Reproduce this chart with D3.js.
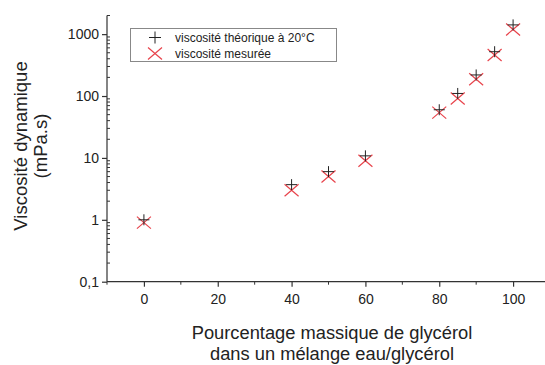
<!DOCTYPE html>
<html>
<head>
<meta charset="utf-8">
<script src="https://cdn.jsdelivr.net/npm/d3@7"></script>
<style>
  html, body { margin: 0; padding: 0; background: #fff; }
  svg { display: block; font-family: "Liberation Sans", Arial, sans-serif; }
</style>
</head>
<body>
<svg id="chart" width="545" height="365"></svg>
<script>
// Glycerol mass fraction (%) of each water/glycerol mixture
const glycerolPct = [0, 40, 50, 60, 80, 85, 90, 95, 100];
// Theoretical dynamic viscosity at 20 °C (mPa.s)
const viscTheorique = [1.0, 3.7, 6.0, 10.8, 60, 110, 219, 520, 1410];
// Measured dynamic viscosity (mPa.s)
const viscMesuree = [0.9, 3.0, 5.0, 9.0, 54, 91, 187, 460, 1190];

const xTicks = [0, 20, 40, 60, 80, 100];
const xMinorTicks = [-10, 10, 30, 50, 70, 90];
const yTicks = [0.1, 1, 10, 100, 1000];
const yTickLabels = ["0,1", "1", "10", "100", "1000"];

const seriesNames = ["viscosité théorique à 20°C", "viscosité mesurée"];
const xTitle = ["Pourcentage massique de glycérol", "dans un mélange eau/glycérol"];
const yTitle = ["Viscosité dynamique", "(mPa.s)"];

const svg = d3.select("#chart");
const axisColor = "#333";
const red = "#e8434b";

const x = d3.scaleLinear().domain([-10, 110]).range([107, 550]);
const y = d3.scaleLog().domain([0.1, 2000]).range([281.7, 15.5]);

// minor ticks on the log axis: 2..9 of each decade
const yMinor = [];
[0.1, 1, 10, 100, 1000].forEach(d => {
  for (let k = 2; k <= 9; k++) {
    const v = d * k;
    if (v <= 2000) yMinor.push(v);
  }
});

// y axis
const yAxis = svg.append("g").attr("transform", `translate(${x(-10)},0)`)
  .call(d3.axisLeft(y).tickValues(yTicks).tickSize(5).tickPadding(3)
    .tickFormat((d, i) => yTickLabels[i]));
yAxis.select(".domain").attr("d", `M0,${y(2000)}V${y(0.1)}`);
const yMinorG = svg.append("g").attr("transform", `translate(${x(-10)},0)`);
yMinorG.selectAll("line").data(yMinor).join("line")
  .attr("x1", 0).attr("x2", 3)
  .attr("y1", d => y(d)).attr("y2", d => y(d))
  .attr("stroke", axisColor);

// x axis
const xAxis = svg.append("g").attr("transform", `translate(0,${y(0.1)})`)
  .call(d3.axisBottom(x).tickValues(xTicks).tickSize(5).tickPadding(7));
xAxis.select(".domain").attr("d", `M${x(-10)},0H${x(110)}`);
const xMinorG = svg.append("g").attr("transform", `translate(0,${y(0.1)})`);
xMinorG.selectAll("line").data(xMinorTicks).join("line")
  .attr("x1", d => x(d)).attr("x2", d => x(d))
  .attr("y1", 0).attr("y2", 3)
  .attr("stroke", axisColor);

[yAxis, xAxis].forEach(g => {
  g.selectAll(".domain, .tick line").attr("stroke", axisColor).attr("stroke-width", 1.2);
  g.selectAll(".tick text").attr("fill", "#222").attr("font-size", 14)
    .attr("font-family", "Liberation Sans, Arial, sans-serif");
});

// marker drawing helpers
function plusPath(cx, cy, r) {
  return `M${cx - r},${cy}H${cx + r}M${cx},${cy - r}V${cy + r}`;
}
function crossPath(cx, cy, rx, ry) {
  return `M${cx - rx},${cy - ry}L${cx + rx},${cy + ry}M${cx - rx},${cy + ry}L${cx + rx},${cy - ry}`;
}

// measured values (red crosses)
svg.append("g").selectAll("path").data(glycerolPct).join("path")
  .attr("d", (d, i) => crossPath(x(d), y(viscMesuree[i]), 7, 6))
  .attr("stroke", red).attr("stroke-width", 1.2).attr("fill", "none");

// theoretical values (black plus)
svg.append("g").selectAll("path").data(glycerolPct).join("path")
  .attr("d", (d, i) => plusPath(x(d), y(viscTheorique[i]), 5.5))
  .attr("stroke", "#222").attr("stroke-width", 1).attr("fill", "none");

// legend
const legend = svg.append("g");
legend.append("rect").attr("x", 130.5).attr("y", 28.5).attr("width", 206).attr("height", 33)
  .attr("fill", "#fff").attr("stroke", "#888").attr("stroke-width", 1);
legend.append("path").attr("d", plusPath(155, 37.5, 6))
  .attr("stroke", "#222").attr("stroke-width", 1).attr("fill", "none");
legend.append("path").attr("d", crossPath(155, 53.5, 7, 6))
  .attr("stroke", red).attr("stroke-width", 1.2).attr("fill", "none");
legend.selectAll("text").data(seriesNames).join("text")
  .attr("x", 175).attr("y", (d, i) => 41.5 + i * 16)
  .attr("font-size", 12).attr("fill", "#222").text(d => d);

// axis titles
svg.append("g").selectAll("text").data(xTitle).join("text")
  .attr("x", 332).attr("y", (d, i) => 339 + i * 20.5)
  .attr("text-anchor", "middle").attr("font-size", 18.3).attr("fill", "#222")
  .text(d => d);

svg.append("g").selectAll("text").data(yTitle).join("text")
  .attr("transform", (d, i) => `translate(${27 + i * 20},146) rotate(-90)`)
  .attr("text-anchor", "middle").attr("font-size", 18.5).attr("fill", "#222")
  .text(d => d);
</script>
</body>
</html>
